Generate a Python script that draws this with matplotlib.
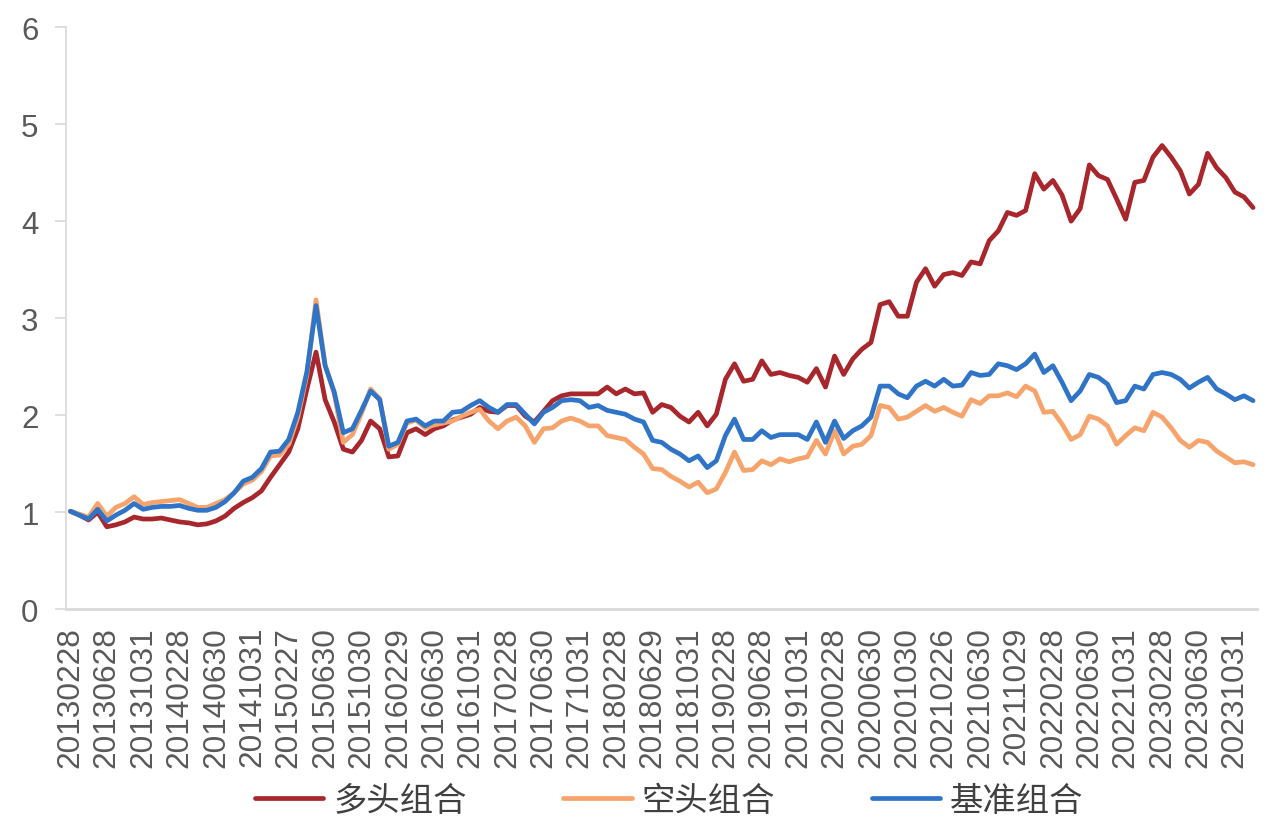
import matplotlib
matplotlib.use("Agg")
import matplotlib.pyplot as plt

# ---- data (monthly, 2013-02 .. 2023-12) ----
tick_labels = ["20130228", "20130628", "20131031", "20140228", "20140630", "20141031",
               "20150227", "20150630", "20151030", "20160229", "20160630", "20161031",
               "20170228", "20170630", "20171031", "20180228", "20180629", "20181031",
               "20190228", "20190628", "20191031", "20200228", "20200630", "20201030",
               "20210226", "20210630", "20211029", "20220228", "20220630", "20221031",
               "20230228", "20230630", "20231031"]

long_port = [1.01, 0.97, 0.92, 1.00, 0.85, 0.87, 0.90, 0.95, 0.93, 0.93,
             0.94, 0.92, 0.90, 0.89, 0.87, 0.88, 0.91, 0.96, 1.04, 1.10,
             1.15, 1.22, 1.36, 1.49, 1.62, 1.86, 2.27, 2.65, 2.16, 1.93,
             1.65, 1.62, 1.74, 1.94, 1.86, 1.57, 1.58, 1.82, 1.86, 1.80,
             1.86, 1.89, 1.95, 1.98, 2.01, 2.08, 2.04, 2.03, 2.10, 2.10,
             1.99, 1.93, 2.04, 2.15, 2.20, 2.22, 2.22, 2.22, 2.22, 2.29,
             2.22, 2.27, 2.22, 2.23, 2.03, 2.11, 2.08, 1.99, 1.93, 2.03,
             1.89, 2.01, 2.37, 2.53, 2.35, 2.37, 2.56, 2.42, 2.44, 2.41,
             2.39, 2.34, 2.48, 2.29, 2.61, 2.42, 2.58, 2.68, 2.75, 3.14,
             3.17, 3.02, 3.02, 3.37, 3.51, 3.33, 3.45, 3.47, 3.44, 3.58,
             3.56, 3.80, 3.90, 4.09, 4.06, 4.11, 4.49, 4.33, 4.42, 4.27,
             4.00, 4.13, 4.58, 4.47, 4.43, 4.23, 4.02, 4.40, 4.42, 4.66,
             4.78, 4.66, 4.52, 4.28, 4.38, 4.70, 4.55, 4.45, 4.30, 4.25,
             4.14]

short_port = [1.01, 0.98, 0.95, 1.09, 0.96, 1.05, 1.09, 1.16, 1.08, 1.10,
              1.11, 1.12, 1.13, 1.09, 1.05, 1.05, 1.09, 1.13, 1.20, 1.29,
              1.33, 1.42, 1.58, 1.59, 1.70, 1.98, 2.42, 3.19, 2.52, 2.22,
              1.72, 1.80, 2.02, 2.27, 2.17, 1.65, 1.70, 1.92, 1.95, 1.87,
              1.90, 1.92, 1.94, 1.99, 2.03, 2.06, 1.94, 1.86, 1.94, 1.98,
              1.89, 1.72, 1.86, 1.87, 1.94, 1.97, 1.94, 1.89, 1.89, 1.79,
              1.77, 1.75, 1.67, 1.60, 1.45, 1.44, 1.37, 1.32, 1.26, 1.31,
              1.20, 1.24, 1.41, 1.62, 1.43, 1.44, 1.53, 1.49, 1.55, 1.52,
              1.55, 1.57, 1.74, 1.60, 1.84, 1.60, 1.68, 1.70, 1.79, 2.10,
              2.08, 1.96, 1.98, 2.04, 2.10, 2.04, 2.08, 2.03, 1.99, 2.16,
              2.12, 2.20, 2.20, 2.23, 2.19, 2.30, 2.25, 2.03, 2.04, 1.91,
              1.75, 1.80, 1.99, 1.96, 1.89, 1.70, 1.79, 1.87, 1.84, 2.03,
              1.98, 1.87, 1.74, 1.67, 1.74, 1.72, 1.63, 1.57, 1.51, 1.52,
              1.49]

bench_port = [1.01, 0.97, 0.93, 1.03, 0.91, 0.97, 1.02, 1.09, 1.03, 1.05,
              1.06, 1.06, 1.07, 1.04, 1.02, 1.02, 1.05, 1.11, 1.20, 1.32,
              1.36, 1.45, 1.62, 1.63, 1.75, 2.03, 2.45, 3.13, 2.51, 2.24,
              1.82, 1.86, 2.05, 2.25, 2.16, 1.68, 1.72, 1.94, 1.96, 1.89,
              1.94, 1.94, 2.03, 2.04, 2.10, 2.15, 2.08, 2.03, 2.11, 2.11,
              2.01, 1.91, 2.03, 2.08, 2.15, 2.16, 2.15, 2.08, 2.10, 2.05,
              2.03, 2.01, 1.96, 1.93, 1.74, 1.72, 1.65, 1.60, 1.53, 1.58,
              1.46, 1.53, 1.79, 1.96, 1.75, 1.75, 1.84, 1.77, 1.80, 1.80,
              1.80, 1.75, 1.93, 1.72, 1.94, 1.76, 1.84, 1.89, 1.98, 2.30,
              2.30, 2.22, 2.18, 2.30, 2.35, 2.30, 2.37, 2.30, 2.31, 2.44,
              2.41, 2.42, 2.53, 2.51, 2.47, 2.53, 2.63, 2.44, 2.51, 2.34,
              2.15, 2.25, 2.42, 2.39, 2.32, 2.13, 2.15, 2.30, 2.27, 2.42,
              2.44, 2.42, 2.37, 2.28, 2.34, 2.39, 2.27, 2.22, 2.16, 2.20,
              2.15]

series_names = ["多头组合", "空头组合", "基准组合"]
series_colors = ["#A8272C", "#F6A46C", "#2F74C7"]
yticks = [0, 1, 2, 3, 4, 5, 6]
tick_step = 4

# ---- figure ----
fig = plt.figure(figsize=(12.75, 8.28), dpi=100)
ax = fig.add_axes([0.052, 0.263, 0.934, 0.703])

x = list(range(len(long_port)))
for vals, name, col in zip([long_port, short_port, bench_port], series_names, series_colors):
    ax.plot(x, vals, color=col, lw=3.4, label=name, solid_joinstyle="round",
            solid_capstyle="round")

ax.set_xlim(-0.45, len(x) - 1 + 0.45)
ax.set_ylim(0, 6)

ax.set_xticks(list(range(0, len(x), tick_step))[:len(tick_labels)])
ax.set_xticklabels(tick_labels, rotation=90, fontsize=22.8, color="#595959",
                   family=["Liberation Sans", "DejaVu Sans"])
ax.set_yticks(yticks)
ax.set_yticklabels([str(v) for v in yticks], fontsize=22.5, color="#595959",
                   family=["Liberation Sans", "DejaVu Sans"])
ax.tick_params(axis="x", length=0, pad=12)
ax.tick_params(axis="y", length=8, width=1.2, color="#D9D9D9", pad=12)

for s in ["top", "right"]:
    ax.spines[s].set_visible(False)
ax.spines["left"].set_color("#D9D9D9")
ax.spines["left"].set_linewidth(1.2)
ax.spines["bottom"].set_color("#D9D9D9")
ax.spines["bottom"].set_linewidth(2.0)

leg = fig.legend(loc="center", bbox_to_anchor=(0.525, 0.032), ncol=3, frameon=False,
                 prop={"family": ["Noto Sans CJK SC", "DejaVu Sans"], "size": 24},
                 handlelength=2.05, handletextpad=0.3, columnspacing=2.9)
for t in leg.get_texts():
    t.set_color("#404040")

fig.savefig("out.png", dpi=100)
